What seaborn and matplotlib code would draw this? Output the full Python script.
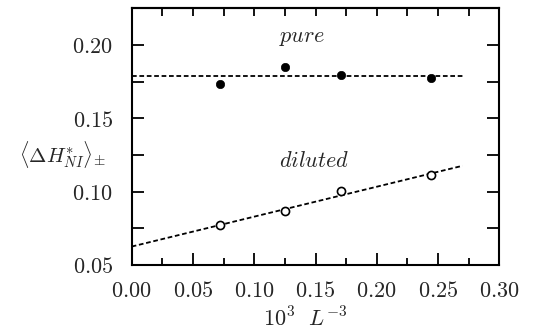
import numpy as np
import pandas as pd
import matplotlib
matplotlib.use("Agg")
import matplotlib.pyplot as plt
import seaborn as sns
from matplotlib.ticker import MultipleLocator, FuncFormatter, NullFormatter

# Data
x_vals = [0.0723, 0.1251, 0.1709, 0.2441]
pure_y = [0.1733, 0.1850, 0.1796, 0.1778]
diluted_y = [0.0772, 0.0865, 0.1003, 0.1112]
fit_range = [0.0, 0.27]
x_ticks = [0.00, 0.05, 0.10, 0.15, 0.20, 0.25, 0.30]
y_ticks = [0.05, 0.10, 0.15, 0.20]

sns.set_theme(style="ticks")
plt.rcParams["font.family"] = ["serif"]
plt.rcParams["mathtext.fontset"] = "cm"

fig = plt.figure(figsize=(5.35, 3.31), dpi=100)
L, R, T, B = 0.2462, 0.9333, 0.9749, 0.1994
ax = fig.add_axes([L, B, R - L, T - B])

df = pd.DataFrame({"x": x_vals, "pure": pure_y, "diluted": diluted_y})

# fits
xf = np.array(fit_range)
pure_fit = np.full_like(xf, np.mean(pure_y))
k, b = np.polyfit(x_vals, diluted_y, 1)
dil_fit = k * xf + b
fit_df = pd.DataFrame({"x": xf, "pure": pure_fit, "diluted": dil_fit})

dash = (0, (2.6, 1.5))
sns.lineplot(data=fit_df, x="x", y="pure", ax=ax, color="black", lw=1.3,
             linestyle=dash)
sns.lineplot(data=fit_df, x="x", y="diluted", ax=ax, color="black", lw=1.3,
             linestyle=dash)
sns.scatterplot(data=df, x="x", y="pure", ax=ax, color="black", s=36,
                edgecolor="black", linewidth=0.5, zorder=5)
sns.scatterplot(data=df, x="x", y="diluted", ax=ax, facecolor="white", s=34,
                edgecolor="black", linewidth=1.2, zorder=5)

ax.set_xlim(0, 0.30)
ax.set_ylim(0.05, 0.225)
ax.set_xticks(x_ticks)
ax.set_yticks(y_ticks)
ax.xaxis.set_minor_locator(MultipleLocator(0.025))
ax.yaxis.set_minor_locator(MultipleLocator(0.025))
fmt = FuncFormatter(lambda v, p: r"$%.2f$" % v)
ax.xaxis.set_major_formatter(fmt)
ax.yaxis.set_major_formatter(fmt)
ax.tick_params(which="both", direction="in", top=False, right=True,
               labelsize=16, color="black", width=1.3)
ax.tick_params(axis="y", which="both", length=8.6, pad=13.5)
ax.tick_params(axis="x", which="major", length=8.6, pad=10.5)
ax.tick_params(axis="x", which="minor", length=5)

sec = ax.secondary_xaxis("top")
sec.set_xticks(np.arange(0, 0.3001, 0.025))
sec.xaxis.set_major_formatter(NullFormatter())
sec.tick_params(direction="in", length=5.5, width=1.3, color="black")
sec.spines["top"].set_linewidth(1.5)

for s in ax.spines.values():
    s.set_linewidth(1.5)
    s.set_color("black")

ax.set_xlabel("")
ax.set_ylabel("")
fig.text(305.5 / 535, 1 - 326.7 / 331, r"$10^3\ \ L^{-3}$",
         fontsize=16, ha="center", va="baseline")
fig.text(63 / 535, 1 - 162 / 331, r"$\langle \Delta H^{*}_{NI} \rangle_{\pm}$",
         fontsize=15, ha="center", va="baseline")
ax.text(0.1387, 0.2052, r"$pure$", fontsize=16, ha="center", va="center")
ax.text(0.149, 0.1207, r"$diluted$", fontsize=16, ha="center", va="center")

fig.savefig("out.png", dpi=100)
